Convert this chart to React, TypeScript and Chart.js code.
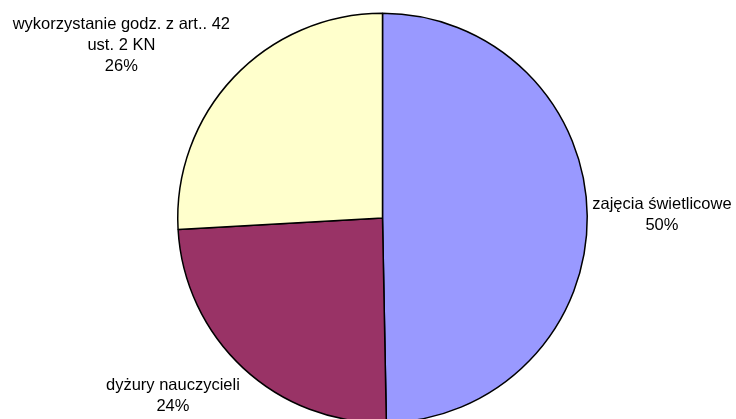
import React, { useEffect, useRef } from "react";
import { Chart, registerables } from "chart.js";

Chart.register(...registerables);

const categories: string[][] = [
  ["zajęcia świetlicowe"],
  ["dyżury nauczycieli"],
  ["wykorzystanie godz. z art.. 42", "ust. 2 KN"],
];
const values: number[] = [49.7, 24.4, 25.9];
const percentLabels: string[] = ["50%", "24%", "26%"];
const colors: string[] = ["#9999FF", "#993366", "#FFFFCC"];

const FONT = "16.5px 'Liberation Sans', Arial, sans-serif";
const LINE_H = 21;

const labelPlugin = {
  id: "outerLabels",
  afterDatasetsDraw(chart: any) {
    const ctx = chart.ctx;
    const meta = chart.getDatasetMeta(0);
    ctx.save();
    ctx.font = FONT;
    ctx.fillStyle = "#000";
    ctx.textBaseline = "middle";
    ctx.textAlign = "center";
    meta.data.forEach((arc: any, i: number) => {
      const p = arc.getProps(["x", "y", "startAngle", "endAngle", "outerRadius"], true);
      const mid = (p.startAngle + p.endAngle) / 2;
      const cos = Math.cos(mid);
      const sin = Math.sin(mid);
      const r = p.outerRadius + 5;
      const ax = p.x + r * cos;
      const ay = p.y + r * sin;
      const lines = [...categories[i], percentLabels[i]];
      const w = Math.max(...lines.map((l) => ctx.measureText(l).width));
      const h = lines.length * LINE_H;
      const clamp = (v: number) => Math.max(-1, Math.min(1, v));
      const cx = ax + (w / 2) * clamp(cos * 3);
      const cy = ay + (h / 2) * clamp(sin * 3) + (Math.abs(sin) > 0.1 ? 3 : 0);
      lines.forEach((l, j) => {
        ctx.fillText(l, cx, cy - h / 2 + LINE_H / 2 + j * LINE_H);
      });
    });
    ctx.restore();
  },
};

export default function App() {
  const ref = useRef<HTMLCanvasElement | null>(null);
  useEffect(() => {
    if (!ref.current) return;
    const chart = new Chart(ref.current, {
      type: "pie",
      data: {
        labels: categories.map((c) => c.join(" ")),
        datasets: [
          {
            data: values,
            backgroundColor: colors,
            borderColor: "#000",
            borderWidth: 1.5,
          },
        ],
      },
      options: {
        responsive: false,
        animation: false,
        layout: { padding: { top: 12.5, bottom: 0.5, left: 29, right: 0 } },
        plugins: {
          legend: { display: false },
          tooltip: { enabled: false },
        },
      },
      plugins: [labelPlugin],
    });
    return () => chart.destroy();
  }, []);
  return (
    <div
      style={{
        position: "fixed",
        left: 0,
        top: 0,
        width: 736,
        height: 419,
        overflow: "hidden",
        background: "#fff",
      }}
    >
      <canvas ref={ref} width={736} height={424} />
    </div>
  );
}
